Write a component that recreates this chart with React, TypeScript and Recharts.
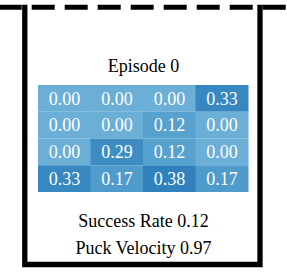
import React from 'react';
import { BarChart, Bar, XAxis, YAxis, Cell, LabelList } from 'recharts';

const columns = ['c0', 'c1', 'c2', 'c3'];
const row0 = [0.0, 0.0, 0.0, 0.33];
const row1 = [0.0, 0.0, 0.12, 0.0];
const row2 = [0.0, 0.29, 0.12, 0.0];
const row3 = [0.33, 0.17, 0.38, 0.17];
const rows = [row0, row1, row2, row3];
const titleText = 'Episode 0';
const successRate = 0.12;
const puckVelocity = 0.97;

const bluesStops = ['#f7fbff', '#deebf7', '#c6dbef', '#9ecae1', '#6baed6', '#4292c6', '#2171b5', '#08519c', '#08306b'];
const vmin = -1;
const vmax = 1;

function hexToRgb(h: string) {
  return [parseInt(h.slice(1, 3), 16), parseInt(h.slice(3, 5), 16), parseInt(h.slice(5, 7), 16)];
}
function blues(v: number) {
  let t = (v - vmin) / (vmax - vmin);
  t = Math.max(0, Math.min(1, t));
  const pos = t * (bluesStops.length - 1);
  const i = Math.min(bluesStops.length - 2, Math.floor(pos));
  const f = pos - i;
  const a = hexToRgb(bluesStops[i]);
  const b = hexToRgb(bluesStops[i + 1]);
  const c = a.map((x, k) => Math.round(x + (b[k] - x) * f));
  return `rgb(${c[0]},${c[1]},${c[2]})`;
}

const data = columns.map((c, j) => {
  const d: any = { col: c };
  rows.forEach((r, i) => {
    d['r' + i] = 1;
    d['v' + i] = r[j];
  });
  return d;
});

const FONT = 'Liberation Serif';

const renderLabel = (props: any) => {
  const { x, y, width, height, value } = props;
  return (
    <text
      x={x + width / 2}
      y={y + height / 2}
      dy="0.35em"
      textAnchor="middle"
      fill="#ffffff"
      fontFamily={FONT}
      fontSize={18}
    >
      {Number(value).toFixed(2)}
    </text>
  );
};

export default function App() {
  return (
    <div style={{ position: 'absolute', left: 0, top: 0, width: 287, height: 273, background: '#fff' }}>
      <BarChart
        width={287}
        height={273}
        data={data}
        margin={{ top: 85, right: 39, bottom: 81, left: 38 }}
        barCategoryGap={0}
        barGap={0}
      >
        <XAxis dataKey="col" hide />
        <YAxis type="number" domain={[0, 4]} reversed hide />
        {rows.map((r, i) => (
          <Bar key={i} dataKey={'r' + i} stackId="s" isAnimationActive={false}>
            {r.map((v, j) => (
              <Cell key={j} fill={blues(v)} />
            ))}
            <LabelList dataKey={'v' + i} content={renderLabel} />
          </Bar>
        ))}
      </BarChart>
      <svg
        width={287}
        height={273}
        style={{ position: 'absolute', left: 0, top: 0, pointerEvents: 'none' }}
      >
        <line x1={-1.3} y1={7.3} x2={287} y2={7.3} stroke="#000" strokeWidth={5} strokeDasharray="23 10" />
        <path
          d="M24.8,4.8 L24.8,264.5 L260,264.5 L260,4.8"
          fill="none"
          stroke="#000"
          strokeWidth={5.3}
          strokeLinejoin="miter"
        />
        <text x={143.5} y={71.7} textAnchor="middle" fill="#000" fontFamily={FONT} fontSize={18}>
          {titleText}
        </text>
        <text x={143.5} y={227} textAnchor="middle" fill="#000" fontFamily={FONT} fontSize={18}>
          {'Success Rate ' + successRate.toFixed(2)}
        </text>
        <text x={143.5} y={253.5} textAnchor="middle" fill="#000" fontFamily={FONT} fontSize={18}>
          {'Puck Velocity ' + puckVelocity.toFixed(2)}
        </text>
      </svg>
    </div>
  );
}
